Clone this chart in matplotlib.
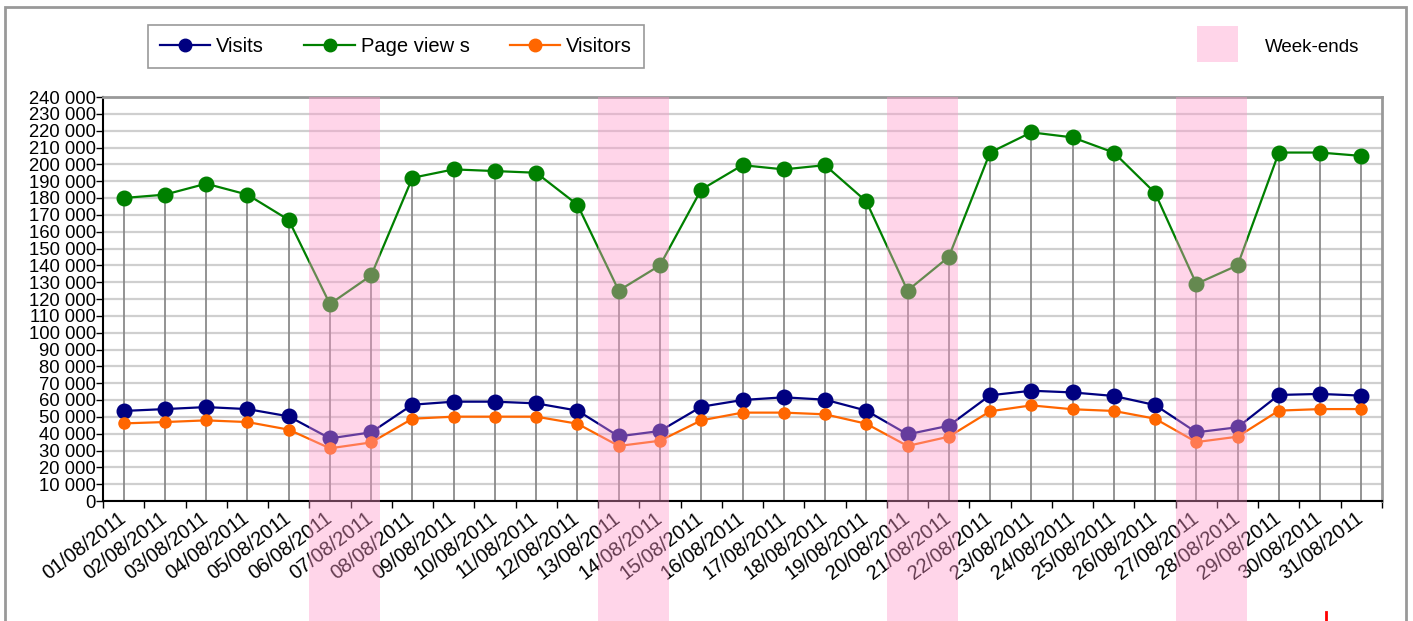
import matplotlib
matplotlib.use("Agg")
import matplotlib.pyplot as plt
import numpy as np
import pandas as pd
from matplotlib.patches import Rectangle
from matplotlib.lines import Line2D
from matplotlib.transforms import blended_transform_factory
from matplotlib.ticker import FixedLocator, FuncFormatter

plt.rcParams['font.family'] = ['Liberation Sans', 'DejaVu Sans']

dates = pd.date_range("2011-08-01", "2011-08-31", freq="D")
date_labels = [d.strftime("%d/%m/%Y") for d in dates]

page_views = [180000, 182000, 188500, 182000, 167000, 117000, 134000, 192000, 197000, 196000,
              195000, 176000, 125000, 140000, 185000, 199500, 197000, 199500, 178000, 125000,
              145000, 207000, 219000, 216000, 207000, 183000, 129000, 140000, 207000, 207000,
              205000]
visits = [53500, 54600, 55800, 54600, 50300, 37200, 40800, 57200, 59000, 59000,
          58000, 53700, 38400, 41600, 56000, 60000, 61600, 60200, 53700, 39600,
          44700, 62800, 65500, 64500, 62400, 57000, 40800, 43800, 63000, 63600,
          62600]
visitors = [46100, 46900, 47900, 46900, 42400, 31300, 34800, 48900, 50100, 50100,
            50100, 45900, 32700, 35800, 47900, 52500, 52500, 51500, 45900, 32700,
            38200, 53300, 56800, 54500, 53500, 48900, 35000, 38200, 53700, 54600,
            54600]

series_names = ["Visits", "Page view s", "Visitors"]
weekend_label = "Week-ends"

W, H = 1413, 621
fig = plt.figure(figsize=(W / 100, H / 100), dpi=100)
ax = fig.add_axes([103 / W, 1 - 501 / H, (1382 - 103) / W, (501 - 97) / H])

x = np.arange(len(dates))

# grid
for v in range(0, 240001, 10000):
    ax.axhline(v, color='#cfcfcf', lw=1.6, zorder=0)

# drop lines
ax.vlines(x, 0, page_views, color='#8a8a8a', lw=1.3, zorder=1)

ax.plot(x, page_views, color='#008000', lw=1.6, marker='o', ms=10.5, zorder=3)
ax.plot(x, visits, color='#000080', lw=1.6, marker='o', ms=10.5, zorder=3)
ax.plot(x, visitors, color='#ff6600', lw=1.6, marker='o', ms=8, zorder=4)

ax.set_xlim(-0.5, len(dates) - 0.5)
ax.set_ylim(0, 240000)

ax.yaxis.set_major_locator(FixedLocator(range(0, 240001, 10000)))
ax.yaxis.set_major_formatter(FuncFormatter(lambda v, p: f"{int(v):,}".replace(",", " ")))
ax.tick_params(axis='y', direction='out', length=5, width=1, pad=0, labelsize=13.3)

ax.set_xticks(x)
ax.set_xticklabels(date_labels, rotation=37, ha='right', va='center', rotation_mode='anchor', fontsize=14.5)
ax.tick_params(axis='x', which='major', length=0, pad=11)
ax.set_xticks(np.arange(-0.5, len(dates)), minor=True)
ax.tick_params(axis='x', which='minor', direction='out', length=5, width=1)

for s in ['top', 'right']:
    ax.spines[s].set_color('#999999')
    ax.spines[s].set_linewidth(2)
for s in ['left', 'bottom']:
    ax.spines[s].set_color('black')
    ax.spines[s].set_linewidth(1.5)

# weekend bands overlay
pink = (1.0, 152 / 255, 202 / 255)
trans = blended_transform_factory(ax.transData, fig.transFigure)
top_frac = 1 - 97 / H
for i, d in enumerate(dates):
    if d.weekday() == 5:
        r = Rectangle((i - 0.5, 0), 1.72, top_frac, transform=trans, facecolor=pink,
                      alpha=0.4, edgecolor='none', zorder=20)
        fig.add_artist(r)

# legend
handles = [Line2D([], [], color='#000080', lw=1.6, marker='o', ms=9),
           Line2D([], [], color='#008000', lw=1.6, marker='o', ms=9),
           Line2D([], [], color='#ff6600', lw=1.6, marker='o', ms=9)]
leg = fig.legend(handles, series_names, loc='center', bbox_to_anchor=(396 / W, 1 - 46.5 / H),
                 ncol=3, fontsize=14.5, frameon=True, fancybox=False, edgecolor='#999999',
                 handlelength=2.5, handletextpad=0.3, columnspacing=2.0, borderpad=0.6,
                 framealpha=1)
leg.get_frame().set_linewidth(1.2)

# weekend legend
fig.add_artist(Rectangle((1197 / W, 1 - 62 / H), 41 / W, 36 / H, transform=fig.transFigure,
                         facecolor=pink, alpha=0.4, edgecolor='none'))
fig.text(1265 / W, 1 - 47 / H, weekend_label, fontsize=13.5, va='center', ha='left')

# outer border
fig.add_artist(Rectangle((5 / W, -0.05), (1406 - 5) / W, 1.05 - 7 / H, transform=fig.transFigure,
                         facecolor='none', edgecolor='#999999', lw=2))

# small red mark at bottom right
fig.add_artist(Line2D([1325.5 / W, 1325.5 / W], [0, 9 / H], transform=fig.transFigure,
                      color='red', lw=2))

fig.savefig("out.png", dpi=100)
